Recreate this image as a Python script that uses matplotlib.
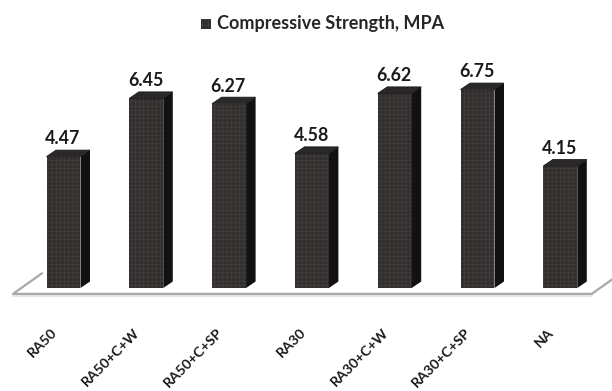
import matplotlib
matplotlib.use("Agg")
import matplotlib.pyplot as plt
from matplotlib.patches import Polygon, Rectangle

categories = ["RA50", "RA50+C+W", "RA50+C+SP", "RA30", "RA30+C+W", "RA30+C+SP", "NA"]
strength = [4.47, 6.45, 6.27, 4.58, 6.62, 6.75, 4.15]
legend_label = "Compressive Strength, MPA"

FRONT = "#322e2e"
SIDE = "#121111"
TOP = "#2a2828"
HATCH = "#433f3f"
FLOOR = "#a9a9a9"
FONT = ["Lato", "DejaVu Sans"]

W_PX, H_PX = 612, 391
X0_PX, STEP_PX = 63.5, 82.8      # first bar centre and spacing (px)
Y0_PX, UNIT_PX = 288.0, 29.4     # zero line and px per MPa

BAR_W = 0.41                     # front face width (category units)
DX, DY = 0.115, 0.22             # 3-D depth offsets (x units, MPa)

plt.rcParams["hatch.linewidth"] = 0.5

fig = plt.figure(figsize=(W_PX / 100, H_PX / 100), dpi=100)
ax = fig.add_axes([0, 0, 1, 1])
ax.set_xlim(-X0_PX / STEP_PX, (W_PX - X0_PX) / STEP_PX)
ax.set_ylim((Y0_PX - H_PX) / UNIT_PX, Y0_PX / UNIT_PX)
ax.axis("off")

# floor: front edge plus the two receding sides
fy = -0.2
fx0, fx1 = -0.61, 6.38
fdx, fdy = 0.35, 0.70
ax.plot([fx0 + fdx, fx0, fx1, fx1 + fdx], [fy + fdy, fy, fy, fy + fdy],
        color=FLOOR, lw=1.6, solid_capstyle="round", zorder=1)
ax.plot([fx0, fx1], [fy - 0.08, fy - 0.08], color="#e2e2e2", lw=1.2, zorder=0.9)

x = list(range(len(categories)))
bars = ax.bar(x, strength, width=BAR_W, color=FRONT, edgecolor=HATCH,
              linewidth=0, hatch="++++", zorder=3)

for rect, v in zip(bars, strength):
    x0 = rect.get_x()
    x1 = x0 + rect.get_width()
    # right side face
    ax.add_patch(Polygon([(x1, 0), (x1 + DX, DY), (x1 + DX, v + DY), (x1, v)],
                         closed=True, facecolor=SIDE, edgecolor="none", zorder=3))
    # top face
    ax.add_patch(Polygon([(x0, v), (x0 + DX, v + DY), (x1 + DX, v + DY), (x1, v)],
                         closed=True, facecolor=TOP, edgecolor="#1c1b1b",
                         linewidth=0.6, zorder=3))
    ax.text(x0 + rect.get_width() / 2 - 0.01, v + 0.6, f"{v:.2f}",
            ha="center", va="center", fontsize=12.8, fontweight="bold",
            family=FONT, color="#1a1a1a", zorder=5)

for i, name in enumerate(categories):
    ax.text(i - 0.1, -1.44, name, rotation=45, rotation_mode="anchor",
            ha="right", va="center", fontsize=10.2, fontweight="bold",
            family=FONT, color="#1a1a1a")

# legend entry at the top
ly = (Y0_PX - 24) / UNIT_PX
sq_w = 10 / STEP_PX
sq_h = 10 / UNIT_PX
sq_x = (201 - X0_PX) / STEP_PX
ax.add_patch(Rectangle((sq_x, ly - sq_h / 2), sq_w, sq_h, facecolor=FRONT,
                       edgecolor=HATCH, linewidth=0, hatch="+++", zorder=3))
ax.text((217 - X0_PX) / STEP_PX, ly, legend_label, ha="left", va="center",
        fontsize=13, fontweight="bold", family=FONT, color="#262626")

fig.savefig("out.png", dpi=100, facecolor="white")
